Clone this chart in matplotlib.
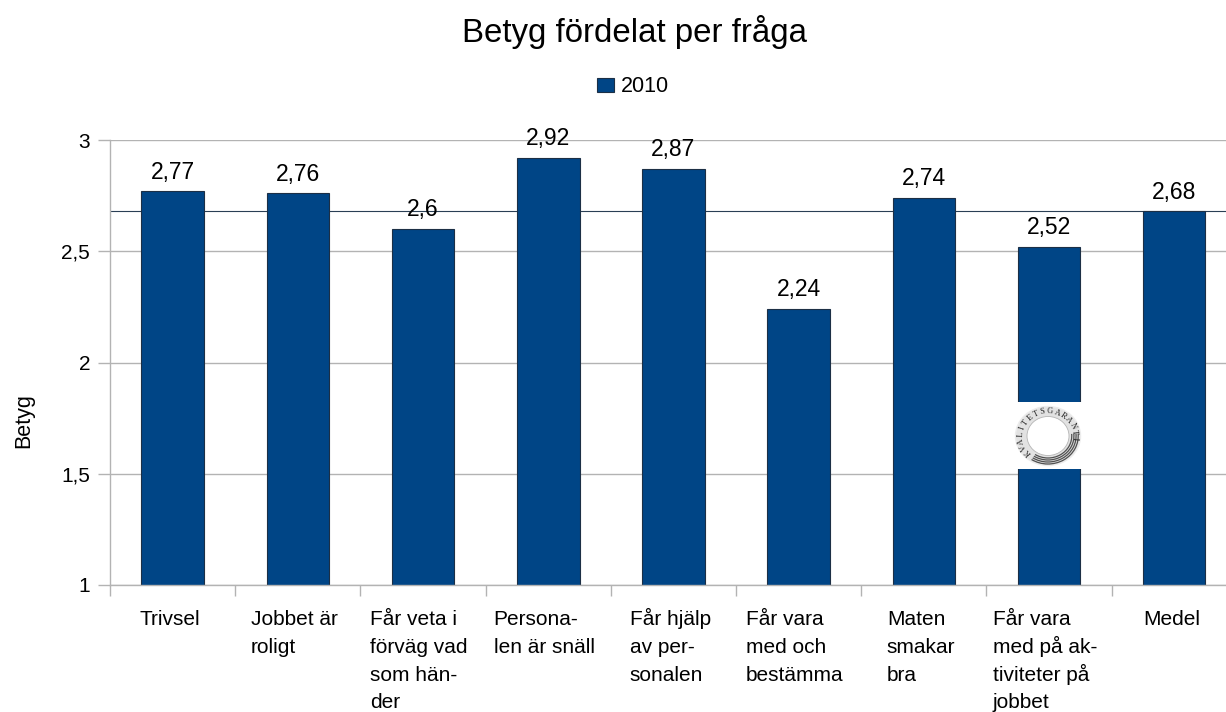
import numpy as np
import matplotlib
matplotlib.use('Agg')
import matplotlib.pyplot as plt
from matplotlib.patches import Arc, Ellipse, Rectangle, Patch

categories = [
    'Trivsel', 'Jobbet är\nroligt', 'Får veta i\nförväg vad\nsom hän-\nder',
    'Persona-\nlen är snäll', 'Får hjälp\nav per-\nsonalen',
    'Får vara\nmed och\nbestämma', 'Maten\nsmakar\nbra',
    'Får vara\nmed på ak-\ntiviteter på\njobbet', 'Medel',
]
values = [2.77, 2.76, 2.6, 2.92, 2.87, 2.24, 2.74, 2.52, 2.68]
mean_value = 2.68
y_ticks = [1, 1.5, 2, 2.5, 3]
y_tick_labels = ['1', '1,5', '2', '2,5', '3']
series_name = '2010'

BAR_COLOR = '#004586'
GRID_COLOR = '#b3b3b3'
W, H = 1226, 712
STEP = 125.2
FIRST_BASELINE = 625
LINE_GAP = 27.8

plt.rcParams['font.family'] = ['Liberation Sans', 'DejaVu Sans']

fig = plt.figure(figsize=(W / 100, H / 100), dpi=100)
ax = fig.add_axes([110 / W, 1 - 585 / H, (W - 110) / W, 445 / H])

x = np.arange(len(categories))
ax.yaxis.grid(True, color=GRID_COLOR, linewidth=1)
ax.set_axisbelow(True)
bars = ax.bar(x, values, width=0.5, color=BAR_COLOR, edgecolor='#1c2f45', linewidth=0.8, zorder=2)
ax.axhline(mean_value, color='#2a3f55', linewidth=0.8, zorder=1.5)

value_labels = [str(v).replace('.', ',') for v in values]
ax.bar_label(bars, labels=value_labels, padding=5.5, fontsize=16.5, color='black')

ax.set_yticks(y_ticks)
ax.set_yticklabels(y_tick_labels, fontsize=15)
ax.set_xticks(np.append(x - 0.5, x[-1] + 0.5))
ax.set_xticklabels([])
ax.set_xlim(-0.5, -0.5 + (W - 110) / STEP)
ax.set_ylim(1, 3)
ax.tick_params(axis='x', length=8, width=1, color=GRID_COLOR)
ax.tick_params(axis='y', length=8.6, width=1, color=GRID_COLOR, pad=5.7)

for side in ['top', 'right']:
    ax.spines[side].set_visible(False)
for side in ['left', 'bottom']:
    ax.spines[side].set_color(GRID_COLOR)
    ax.spines[side].set_linewidth(1)

# category labels line by line, block centred under the bar and left aligned
renderer = fig.canvas.get_renderer()
trans = ax.get_xaxis_transform()
for pos, label in zip(x, categories):
    lines = label.split('\n')
    texts = []
    for i, line in enumerate(lines):
        offset = -(FIRST_BASELINE + i * LINE_GAP - 585)
        texts.append(ax.annotate(line, xy=(pos, 0), xycoords=trans, xytext=(0, offset * 0.72),
                                 textcoords='offset points', fontsize=15, ha='left', va='baseline',
                                 annotation_clip=False))
    widest = max(t.get_window_extent(renderer).width for t in texts)
    for t in texts:
        t.xyann = (-widest * 1.08 / 2 * 0.72, t.xyann[1])

ax.set_ylabel('Betyg', fontsize=15.5)
ax.yaxis.set_label_coords(-76 / (W - 110), (585 - 421) / 445)

fig.text(635 / W, 1 - 32 / H, 'Betyg fördelat per fråga', fontsize=23.8, ha='center', va='center')

handle = Patch(facecolor=BAR_COLOR, edgecolor='#1c2f45', linewidth=0.8)
fig.legend([handle], [series_name], loc='center', bbox_to_anchor=(633 / W, 1 - 87 / H),
           frameon=False, fontsize=15.5, handlelength=0.8, handleheight=0.6, handletextpad=0.32)

# kvalitetsgaranti logo, drawn in pixel coordinates over the bar
logo = fig.add_axes([0, 0, 1, 1])
logo.set_xlim(0, W)
logo.set_ylim(H, 0)
logo.axis('off')
logo.patch.set_alpha(0)
cx, cy = 1048, 436
logo.add_patch(Rectangle((1015, 402), 67, 67, facecolor='white', edgecolor='none'))
logo.add_patch(Ellipse((cx, cy), 65, 59, facecolor='#e2e2e2', edgecolor='#ececec', linewidth=1))
logo.add_patch(Ellipse((cx, cy), 42, 39, facecolor='white', edgecolor='#b5b5b5', linewidth=0.6))
for d in [44, 48, 52, 56]:
    logo.add_patch(Arc((cx, cy), d * 1.08, d, theta1=-5, theta2=125, color='#505050', linewidth=0.9))

logo_text = 'KVALITETSGARANTI'
angles = np.linspace(222, -5, len(logo_text))
for ch, a in zip(logo_text, angles):
    t = np.deg2rad(a)
    logo.text(cx + 27 * np.cos(t), cy - 24.5 * np.sin(t), ch, fontsize=6, family='Liberation Serif',
              color='#222222', ha='center', va='center', rotation=a - 90)

fig.savefig('out.png', dpi=100)
